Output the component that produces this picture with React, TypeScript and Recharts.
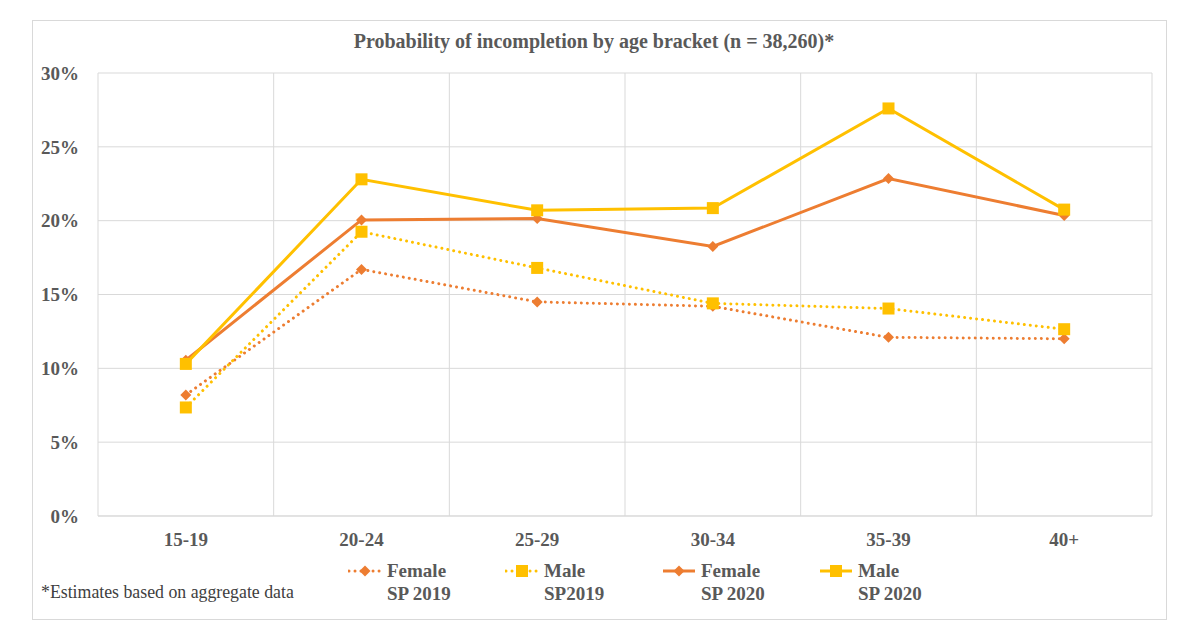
import React from "react";
import { CartesianGrid, Line, LineChart, XAxis, YAxis } from "recharts";

// Probability of incompletion by age bracket, four series (female/male, SP 2019/SP 2020)

const ORANGE = "#ED7D31";
const YELLOW = "#FFC000";
const GRID = "#D9D9D9";
const TEXT = "#595959";
const SERIF = "'Liberation Serif', 'Times New Roman', serif";

const AGE_BRACKETS = ["15-19", "20-24", "25-29", "30-34", "35-39", "40+"];
const FEMALE_SP2019 = [8.2, 16.7, 14.5, 14.2, 12.1, 12.0];
const MALE_SP2019 = [7.35, 19.25, 16.8, 14.4, 14.05, 12.65];
const FEMALE_SP2020 = [10.55, 20.05, 20.15, 18.25, 22.85, 20.35];
const MALE_SP2020 = [10.3, 22.8, 20.7, 20.85, 27.6, 20.75];
const Y_TICKS = [0, 5, 10, 15, 20, 25, 30];

const rows = AGE_BRACKETS.map((age, i) => ({
  age,
  f19: FEMALE_SP2019[i],
  m19: MALE_SP2019[i],
  f20: FEMALE_SP2020[i],
  m20: MALE_SP2020[i],
}));

type SeriesDef = {
  key: string;
  line1: string;
  line2: string;
  color: string;
  dotted: boolean;
  marker: "diamond" | "square";
};

const SERIES: SeriesDef[] = [
  { key: "f19", line1: "Female", line2: "SP 2019", color: ORANGE, dotted: true, marker: "diamond" },
  { key: "m19", line1: "Male", line2: "SP2019", color: YELLOW, dotted: true, marker: "square" },
  { key: "f20", line1: "Female", line2: "SP 2020", color: ORANGE, dotted: false, marker: "diamond" },
  { key: "m20", line1: "Male", line2: "SP 2020", color: YELLOW, dotted: false, marker: "square" },
];

function Marker({ cx, cy, color, marker }: { cx: number; cy: number; color: string; marker: string }) {
  if (marker === "square") {
    return <rect x={cx - 6} y={cy - 6} width={12} height={12} fill={color} />;
  }
  const r = 5.5;
  return <path d={`M${cx},${cy - r}L${cx + r},${cy}L${cx},${cy + r}L${cx - r},${cy}Z`} fill={color} />;
}

function LegendIcon({ s }: { s: SeriesDef }) {
  return (
    <svg width={34} height={14} style={{ flex: "none", marginTop: 5 }}>
      <line
        x1={1}
        x2={33}
        y1={7}
        y2={7}
        stroke={s.color}
        strokeWidth={3}
        strokeDasharray={s.dotted ? "0.01 6" : undefined}
        strokeLinecap={s.dotted ? "round" : "butt"}
      />
      <Marker cx={17} cy={7} color={s.color} marker={s.marker} />
    </svg>
  );
}

// legend kept outside the chart so it doesn't shrink the plot area
function ChartLegend() {
  return (
    <div style={{ position: "absolute", left: 348, top: 559, display: "flex" }}>
      {SERIES.map((s) => (
        <div key={s.key} style={{ width: 157, display: "flex", alignItems: "flex-start" }}>
          <LegendIcon s={s} />
          <div
            style={{
              marginLeft: 5,
              color: TEXT,
              fontFamily: SERIF,
              fontWeight: 700,
              fontSize: 19,
              lineHeight: "23px",
            }}
          >
            <div>{s.line1}</div>
            <div>{s.line2}</div>
          </div>
        </div>
      ))}
    </div>
  );
}

export default function App() {
  const tickStyle = { fill: TEXT, fontSize: 19, fontWeight: 700, fontFamily: SERIF };
  return (
    <div style={{ position: "fixed", left: 0, top: 0, width: 1200, height: 625, background: "#fff" }}>
      <div
        style={{
          position: "absolute",
          left: 32,
          top: 20,
          width: 1133,
          height: 598,
          border: `1px solid ${GRID}`,
        }}
      />
      <div
        style={{
          position: "absolute",
          left: 0,
          width: 1188,
          top: 30,
          textAlign: "center",
          color: TEXT,
          fontFamily: SERIF,
          fontWeight: 700,
          fontSize: 20,
        }}
      >
        Probability of incompletion by age bracket (n = 38,260)*
      </div>
      <div
        style={{
          position: "absolute",
          left: 41,
          top: 582,
          color: "#404040",
          fontFamily: SERIF,
          fontSize: 17.8,
        }}
      >
        *Estimates based on aggregate data
      </div>
      <LineChart
        width={1200}
        height={625}
        data={rows}
        margin={{ top: 73, right: 48, bottom: 69, left: 0 }}
        style={{ position: "absolute", left: 0, top: 0 }}
      >
        <CartesianGrid
          stroke={GRID}
          verticalCoordinatesGenerator={({ offset }: any) =>
            AGE_BRACKETS.concat([""]).map((_, i) => offset.left + (i * offset.width) / AGE_BRACKETS.length)
          }
        />
        <XAxis
          dataKey="age"
          scale="band"
          height={40}
          tick={tickStyle}
          tickLine={false}
          tickMargin={11}
          axisLine={{ stroke: GRID }}
        />
        <YAxis
          domain={[0, 30]}
          ticks={Y_TICKS}
          width={98}
          tick={tickStyle}
          tickLine={false}
          tickMargin={13}
          axisLine={false}
          tickFormatter={(v: number) => `${v}%`}
        />
        {SERIES.map((s) => (
          <Line
            key={s.key}
            dataKey={s.key}
            type="linear"
            stroke={s.color}
            strokeWidth={3}
            strokeDasharray={s.dotted ? "0.01 6" : undefined}
            strokeLinecap={s.dotted ? "round" : "butt"}
            dot={(p: any) => <Marker key={`${s.key}-${p.index}`} cx={p.cx} cy={p.cy} color={s.color} marker={s.marker} />}
            activeDot={false}
            isAnimationActive={false}
          />
        ))}
      </LineChart>
      <ChartLegend />
    </div>
  );
}
